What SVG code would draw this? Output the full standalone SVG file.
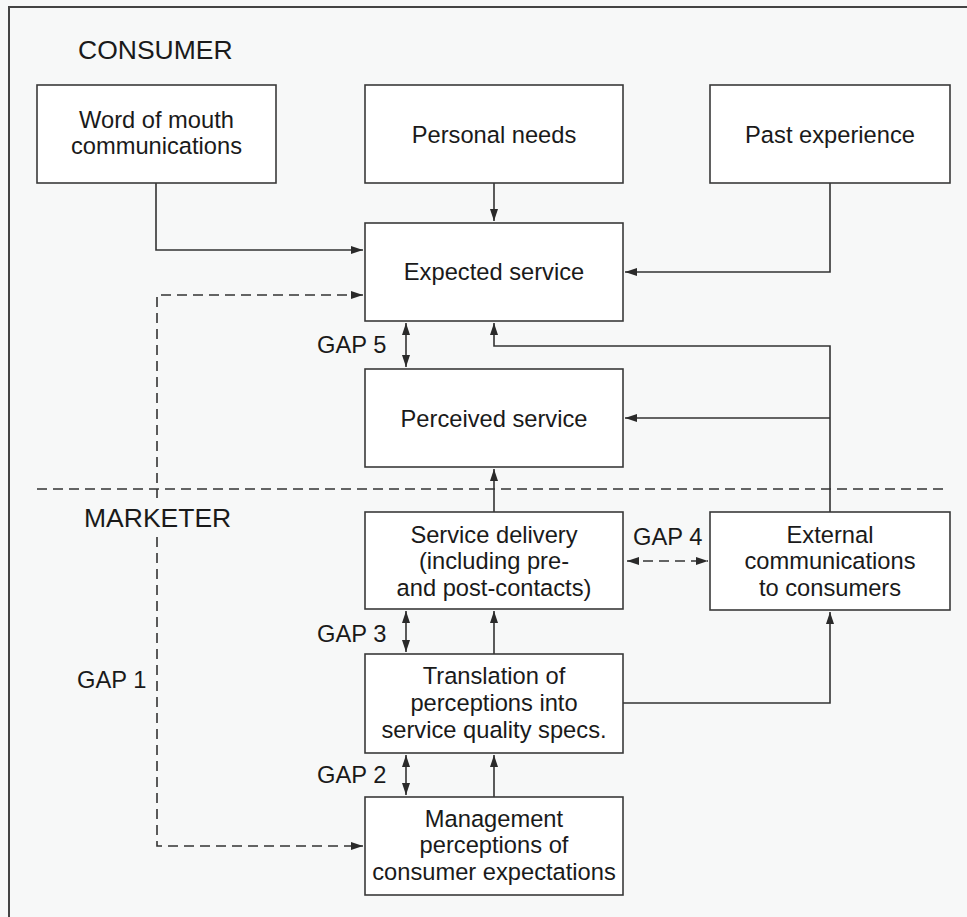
<svg xmlns="http://www.w3.org/2000/svg" width="967" height="917" viewBox="0 0 967 917">
<defs>
<marker id="ah" viewBox="0 0 12 8" refX="12" refY="4" markerWidth="12" markerHeight="8" markerUnits="userSpaceOnUse" orient="auto-start-reverse">
<path d="M0,0 L12,4 L0,8 Z" fill="#2a2a2a"/>
</marker>
</defs>
<style>
.bg{fill:#f7f8f8}
.box{fill:#ffffff;stroke:#3a3a3a;stroke-width:1.6}
.t{font-family:"Liberation Sans",Arial,sans-serif;font-size:23.7px;fill:#1a1a1a;text-anchor:middle}
.h{font-family:"Liberation Sans",Arial,sans-serif;font-size:26.5px;fill:#1a1a1a}
.g{font-family:"Liberation Sans",Arial,sans-serif;font-size:23.7px;fill:#1a1a1a}
.ln{fill:none;stroke:#333;stroke-width:1.6}
.ds{fill:none;stroke:#333;stroke-width:1.6;stroke-dasharray:10,6}
</style>
<rect class="bg" x="0" y="0" width="967" height="917"/>
<path d="M9,917 V7 H967" fill="none" stroke="#444" stroke-width="2"/>
<text class="h" x="78" y="59">CONSUMER</text>
<text class="h" x="84" y="527">MARKETER</text>
<g id="connectors">
<path class="ds" d="M37,489 H945"/>
<path class="ln" d="M156,183 V250 H363" marker-end="url(#ah)"/>
<path class="ln" d="M494,183 V221" marker-end="url(#ah)"/>
<path class="ln" d="M830,183 V272 H625" marker-end="url(#ah)"/>
<path class="ln" d="M830,512 V346 H494 V323" marker-end="url(#ah)"/>
<path class="ln" d="M830,418 H625" marker-end="url(#ah)"/>
<path class="ln" d="M494,512 V469" marker-end="url(#ah)"/>
<path class="ln" d="M494,654 V611" marker-end="url(#ah)"/>
<path class="ln" d="M494,797 V755" marker-end="url(#ah)"/>
<path class="ln" d="M623,703 H830 V612" marker-end="url(#ah)"/>
<path class="ds" d="M363,295 H157 V498" marker-start="url(#ah)"/>
<path class="ds" d="M157,537 V846 H363" marker-end="url(#ah)"/>
<path class="ds" d="M627,561 H708" marker-start="url(#ah)" marker-end="url(#ah)" stroke-dasharray="8,6"/>
<path class="ln" d="M406,323 V367" marker-start="url(#ah)" marker-end="url(#ah)"/>
<path class="ln" d="M406,611 V652" marker-start="url(#ah)" marker-end="url(#ah)"/>
<path class="ln" d="M406,755 V795" marker-start="url(#ah)" marker-end="url(#ah)"/>
</g>
<text class="g" x="317" y="353">GAP 5</text>
<text class="g" x="633" y="545">GAP 4</text>
<text class="g" x="317" y="642">GAP 3</text>
<text class="g" x="317" y="783">GAP 2</text>
<text class="g" x="77" y="688">GAP 1</text>
<g id="word-of-mouth">
<rect class="box" x="37" y="85" width="239" height="98"/>
<text class="t" x="156.5" y="128">Word of mouth</text>
<text class="t" x="156.5" y="154">communications</text>
</g>
<g id="personal-needs">
<rect class="box" x="365" y="85" width="258" height="98"/>
<text class="t" x="494" y="143">Personal needs</text>
</g>
<g id="past-experience">
<rect class="box" x="710" y="85" width="240" height="98"/>
<text class="t" x="830" y="143">Past experience</text>
</g>
<g id="expected-service">
<rect class="box" x="365" y="223" width="258" height="98"/>
<text class="t" x="494" y="280">Expected service</text>
</g>
<g id="perceived-service">
<rect class="box" x="365" y="369" width="258" height="98"/>
<text class="t" x="494" y="427">Perceived service</text>
</g>
<g id="service-delivery">
<rect class="box" x="365" y="512" width="258" height="97"/>
<text class="t" x="494" y="543">Service delivery</text>
<text class="t" x="494" y="569">(including pre-</text>
<text class="t" x="494" y="596">and post-contacts)</text>
</g>
<g id="external-communications">
<rect class="box" x="710" y="512" width="240" height="98"/>
<text class="t" x="830" y="543">External</text>
<text class="t" x="830" y="569">communications</text>
<text class="t" x="830" y="596">to consumers</text>
</g>
<g id="translation">
<rect class="box" x="365" y="654" width="258" height="99"/>
<text class="t" x="494" y="684">Translation of</text>
<text class="t" x="494" y="711">perceptions into</text>
<text class="t" x="494" y="738">service quality specs.</text>
</g>
<g id="management">
<rect class="box" x="365" y="797" width="258" height="98"/>
<text class="t" x="494" y="827">Management</text>
<text class="t" x="494" y="853">perceptions of</text>
<text class="t" x="494" y="880">consumer expectations</text>
</g>
</svg>
